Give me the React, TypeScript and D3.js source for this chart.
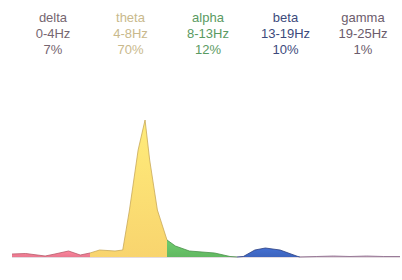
import React from "react";
import * as d3 from "d3";

const bands = ["delta", "theta", "alpha", "beta", "gamma"];
const ranges = ["0-4Hz", "4-8Hz", "8-13Hz", "13-19Hz", "19-25Hz"];
const shares = ["7%", "70%", "12%", "10%", "1%"];
const edges = [0, 4, 8, 13, 19, 25];

// frequency (Hz) and relative power for each band
const deltaFreq = [0, 0.7, 1.7, 2.2, 2.9, 3.5, 4];
const deltaPow = [3, 3.5, 1, 3, 6, 2, 4];
const thetaFreq = [4, 4.5, 5.3, 5.7, 6.05, 6.5, 6.86, 7.1, 7.5, 8];
const thetaPow = [4, 7, 6, 7, 47, 107, 137, 97, 47, 17];
const alphaFreq = [8, 8.6, 9.6, 11.4, 12.5, 13];
const alphaPow = [17, 11, 6, 4, 0.5, 0];
const betaFreq = [13, 13.6, 14.7, 15.7, 17.1, 18.8, 19];
const betaPow = [0, 0.5, 7, 9, 7, 0.5, 0];
const gammaFreq = [19, 20, 21, 22, 23, 24, 25];
const gammaPow = [0, 0.5, 1, 0.5, 1, 0.5, 0.5];

const fills = ["#e8788e", "#f8d46e", "#62b862", "#3d64bd", "#b89ab0"];
const strokes = ["#b85a6a", "#c8a858", "#4a904a", "#2a3e80", "#8a6a8a"];
const textColors = ["#766670", "#c9b98c", "#5a9a62", "#3c4a7c", "#6c5c6c"];

const series = [
  [deltaFreq, deltaPow],
  [thetaFreq, thetaPow],
  [alphaFreq, alphaPow],
  [betaFreq, betaPow],
  [gammaFreq, gammaPow],
];

export default function App() {
  const width = 402, height = 280;
  const x = d3.scaleLinear().domain(edges).range([12, 90, 167, 237, 300, 400]);
  const y = d3.scaleLinear().domain([0, 137]).range([257, 120]);
  const lx = d3.scalePoint().domain(bands).range([53, 363]);

  const area = d3.area<[number, number]>()
    .x(d => x(d[0]))
    .y0(y(0))
    .y1(d => y(d[1]));
  const line = d3.line<[number, number]>()
    .x(d => x(d[0]))
    .y(d => y(d[1]));

  return (
    <svg width={width} height={height}
      style={{ position: "absolute", left: 0, top: 0, background: "#fff" }}
      fontFamily="'Liberation Sans', Arial, sans-serif">
      <defs>
        {fills.map((c, i) => (
          <linearGradient key={i} id={`g${i}`} x1="0" y1="0" x2="0" y2="1">
            <stop offset="0%" stopColor={d3.color(c)!.brighter(0.3).toString()} />
            <stop offset="100%" stopColor={c} />
          </linearGradient>
        ))}
      </defs>
      {bands.map((b, i) => (
        <g key={b} textAnchor="middle" fontSize={13} fill={textColors[i]}>
          <text x={lx(b)} y={22}>{b}</text>
          <text x={lx(b)} y={38}>{ranges[i]}</text>
          <text x={lx(b)} y={54}>{shares[i]}</text>
        </g>
      ))}
      <line x1={x(0)} x2={x(25)} y1={y(0)} y2={y(0)} stroke="#c8b8c4" strokeWidth={1} />
      {series.map(([f, p], i) => {
        const pts = f.map((v, k) => [v, p[k]] as [number, number]);
        return (
          <g key={i}>
            <path d={area(pts)!} fill={`url(#g${i})`} />
            <path d={line(pts)!} fill="none" stroke={strokes[i]} strokeWidth={0.8} />
          </g>
        );
      })}
    </svg>
  );
}
